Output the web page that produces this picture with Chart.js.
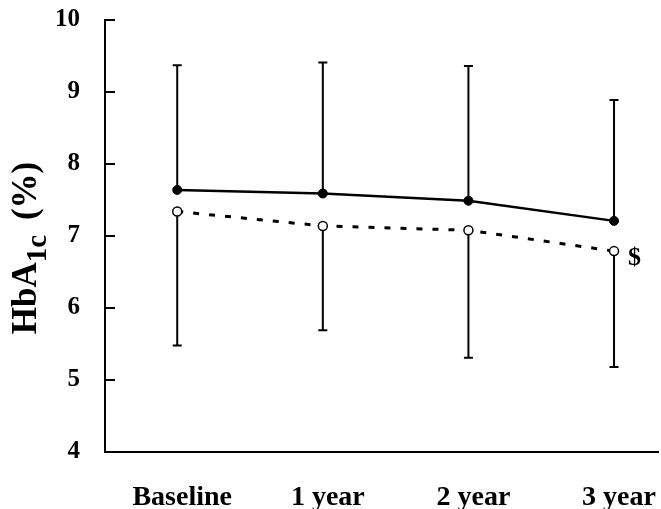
<!DOCTYPE html>
<html>
<head>
    <title>HbA1c over time</title>
    <script src="https://cdn.jsdelivr.net/npm/chart.js"></script>
    <style>
        html, body { margin: 0; padding: 0; background: #fff; }
        .chart-container { position: relative; width: 661px; height: 509px; }
    </style>
</head>
<body>
    <div class="chart-container">
        <canvas id="hbaChart"></canvas>
    </div>

    <script>
        // Values
        const categories = ['Baseline', '1 year', '2 year', '3 year'];
        const solidMean = [7.64, 7.59, 7.49, 7.21];
        const solidUpper = [9.37, 9.41, 9.36, 8.89];
        const dashedMean = [7.34, 7.14, 7.08, 6.79];
        const dashedLower = [5.48, 5.69, 5.31, 5.18];
        const yTicks = [4, 5, 6, 7, 8, 9, 10];

        const serif = '"Liberation Serif", "Times New Roman", serif';

        // error bars: upper for solid series, lower for dashed series
        const errorBars = {
            id: 'errorBars',
            beforeDatasetsDraw(chart) {
                const ctx = chart.ctx;
                const xs = chart.scales.x, ys = chart.scales.y;
                ctx.save();
                ctx.strokeStyle = '#000';
                ctx.lineWidth = 2;
                categories.forEach((c, i) => {
                    const px = xs.getPixelForValue(i);
                    const bars = [[solidMean[i], solidUpper[i]], [dashedMean[i], dashedLower[i]]];
                    bars.forEach(([from, to]) => {
                        const y0 = ys.getPixelForValue(from), y1 = ys.getPixelForValue(to);
                        ctx.beginPath();
                        ctx.moveTo(px, y0);
                        ctx.lineTo(px, y1);
                        ctx.moveTo(px - 4.5, y1);
                        ctx.lineTo(px + 4.5, y1);
                        ctx.stroke();
                    });
                });
                ctx.restore();
            }
        };

        // inward tick marks, y title with subscript, "$" note
        const decorations = {
            id: 'decorations',
            afterDraw(chart) {
                const ctx = chart.ctx;
                const xs = chart.scales.x, ys = chart.scales.y;
                const left = chart.chartArea.left;
                ctx.save();
                ctx.strokeStyle = '#000';
                ctx.lineWidth = 2;
                yTicks.slice(1).forEach(v => {
                    const py = Math.round(ys.getPixelForValue(v));
                    ctx.beginPath();
                    ctx.moveTo(left, py);
                    ctx.lineTo(left + 10, py);
                    ctx.stroke();
                });

                // axis title
                ctx.fillStyle = '#000';
                ctx.translate(36, 248);
                ctx.rotate(-Math.PI / 2);
                ctx.textBaseline = 'alphabetic';
                ctx.textAlign = 'left';
                const big = 'bold 35px ' + serif, small = 'bold 29px ' + serif;
                const gap = 6;
                ctx.font = big;
                const w1 = ctx.measureText('HbA').width;
                const w3 = ctx.measureText(' (%)').width;
                ctx.font = small;
                const w2 = ctx.measureText('1c').width;
                let x = -(w1 + w2 + gap + w3) / 2;
                ctx.font = big;
                ctx.fillText('HbA', x, 0);
                x += w1;
                ctx.font = small;
                ctx.fillText('1c', x, 10);
                x += w2 + gap;
                ctx.font = big;
                ctx.fillText(' (%)', x, 0);
                ctx.setTransform(1, 0, 0, 1, 0, 0);

                // significance mark by the last dashed point
                const last = categories.length - 1;
                ctx.font = 'bold 26px ' + serif;
                ctx.textBaseline = 'middle';
                ctx.fillText('$', xs.getPixelForValue(last) + 14, ys.getPixelForValue(dashedMean[last]) + 7);
                ctx.restore();
            }
        };

        const ctx = document.getElementById('hbaChart').getContext('2d');
        const hbaChart = new Chart(ctx, {
            type: 'line',
            data: {
                datasets: [{
                    label: 'Solid',
                    data: solidMean.map((v, i) => ({ x: i, y: v })),
                    borderColor: '#000',
                    borderWidth: 2.5,
                    pointRadius: 4.5,
                    pointBackgroundColor: '#000',
                    pointBorderColor: '#000',
                    pointBorderWidth: 1,
                    tension: 0,
                    fill: false
                }, {
                    label: 'Dashed',
                    data: dashedMean.map((v, i) => ({ x: i, y: v })),
                    borderColor: '#000',
                    borderWidth: 3,
                    borderDash: [6, 10],
                    pointRadius: 4.5,
                    pointBackgroundColor: '#fff',
                    pointBorderColor: '#000',
                    pointBorderWidth: 1.5,
                    tension: 0,
                    fill: false
                }]
            },
            options: {
                responsive: true,
                maintainAspectRatio: false,
                animation: false,
                layout: { autoPadding: false, padding: { left: 0, right: 3, top: 20, bottom: 0 } },
                plugins: {
                    legend: { display: false },
                    tooltip: { enabled: false }
                },
                scales: {
                    x: {
                        type: 'linear',
                        min: -0.496,
                        max: 3.302,
                        afterBuildTicks: s => { s.ticks = categories.map((c, i) => ({ value: i })); },
                        afterFit: s => { s.height = 57; s.paddingLeft = 0; s.paddingRight = 0; },
                        grid: { display: false, drawTicks: false },
                        border: { display: true, color: '#000', width: 2 },
                        ticks: {
                            callback: v => categories[v],
                            color: '#000',
                            font: { family: serif, size: 28, weight: 'bold' },
                            padding: 29,
                            labelOffset: 5,
                            maxRotation: 0,
                            autoSkip: false
                        }
                    },
                    y: {
                        min: 4,
                        max: 10,
                        afterBuildTicks: s => { s.ticks = yTicks.map(v => ({ value: v })); },
                        afterFit: s => { s.width = 105; s.paddingTop = 0; s.paddingBottom = 0; },
                        grid: { display: false, drawTicks: false },
                        border: { display: true, color: '#000', width: 2 },
                        ticks: {
                            color: '#000',
                            font: { family: serif, size: 25, weight: 'bold' },
                            padding: 25
                        }
                    }
                }
            },
            plugins: [errorBars, decorations]
        });
    </script>
</body>
</html>
